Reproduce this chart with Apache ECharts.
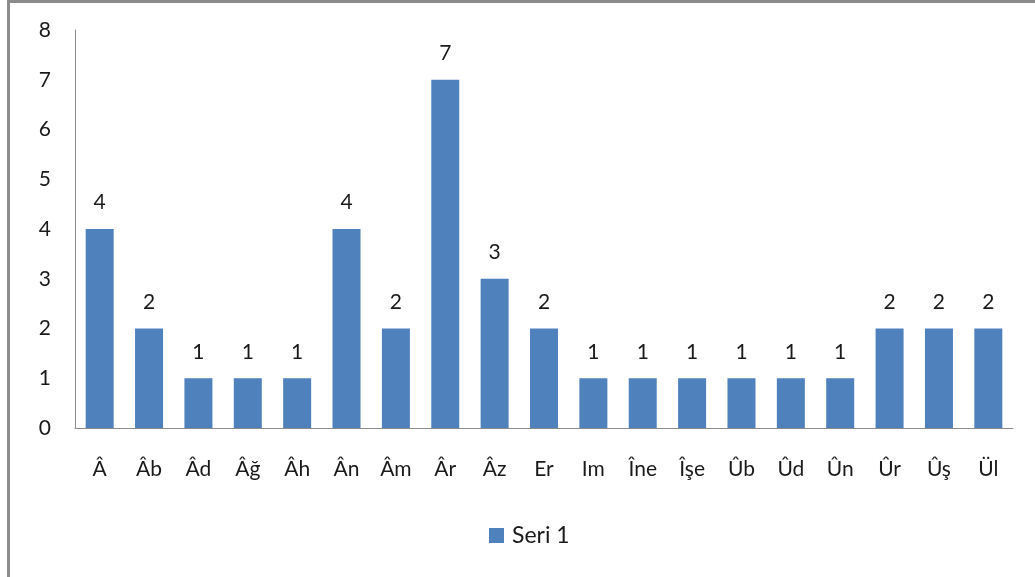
<!DOCTYPE html>
<html>
<head>
<meta charset="utf-8">
<script src="https://cdn.jsdelivr.net/npm/echarts@6/dist/echarts.min.js"></script>
<style>
  html, body { margin: 0; padding: 0; background: #fff; }
  #chart { position: absolute; left: 0; top: 0; width: 1035px; height: 577px; }
  #frame { position: absolute; left: 7px; top: 0px; width: 1040px; height: 590px;
           border-left: 3px solid #8c8c8c; border-top: 3px solid #8c8c8c; pointer-events: none; }
</style>
</head>
<body>
<div id="chart"></div>
<div id="frame"></div>
<script>
// categories and values
const categories = ["Â", "Âb", "Âd", "Âğ", "Âh", "Ân", "Âm", "Âr", "Âz", "Er",
  "Im", "Îne", "Îşe", "Ûb", "Ûd", "Ûn", "Ûr", "Ûş", "Ül"];
const seri1 = [4, 2, 1, 1, 1, 4, 2, 7, 3, 2, 1, 1, 1, 1, 1, 1, 2, 2, 2];
const seriesName = "Seri 1";

const fontFam = "Lato, 'Open Sans', sans-serif";
const chart = echarts.init(document.getElementById("chart"));

chart.setOption({
  animation: false,
  textStyle: { fontFamily: fontFam },
  grid: { left: 75, right: 22, top: 30, bottom: 149 },
  legend: {
    bottom: 25,
    left: 484,
    padding: 5,
    icon: "rect",
    itemWidth: 15,
    itemHeight: 15,
    itemGap: 10,
    textStyle: { fontSize: 23, color: "#1a1a1a", fontFamily: fontFam, padding: [0, 0, 0, 3] },
    data: [seriesName]
  },
  xAxis: {
    type: "category",
    data: categories,
    axisLine: { lineStyle: { color: "#8c8c8c", width: 1 } },
    axisTick: { show: false },
    axisLabel: { fontSize: 21, color: "#1a1a1a", margin: 31, interval: 0 }
  },
  yAxis: {
    type: "value",
    min: 0,
    max: 8,
    interval: 1,
    splitLine: { show: false },
    axisLine: { show: true, lineStyle: { color: "#8c8c8c", width: 1 } },
    axisTick: { show: false },
    axisLabel: { fontSize: 21, color: "#1a1a1a", margin: 24 }
  },
  series: [{
    name: seriesName,
    type: "bar",
    data: seri1,
    barWidth: 28,
    itemStyle: { color: "#4f81bd" },
    label: {
      show: true,
      position: "top",
      distance: 16,
      fontSize: 21,
      color: "#1a1a1a"
    }
  }]
});
</script>
</body>
</html>
